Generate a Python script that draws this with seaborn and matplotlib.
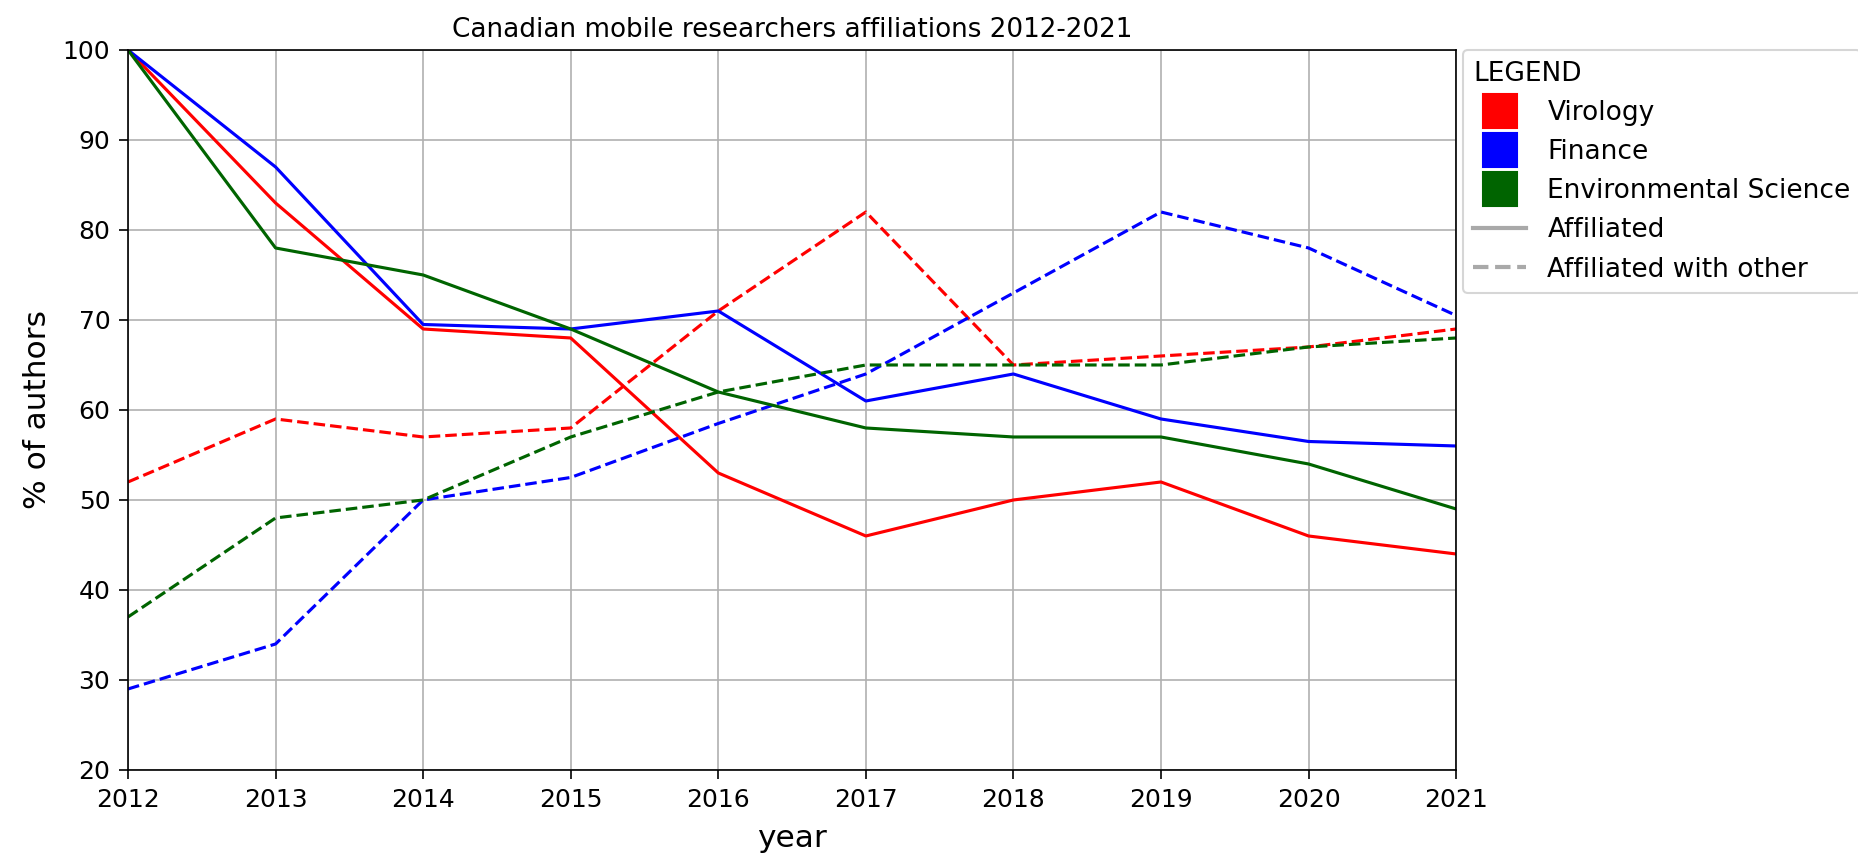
"""Canadian mobile researchers affiliations line chart."""
import numpy as np
import pandas as pd
import matplotlib
matplotlib.use("Agg")
import matplotlib.pyplot as plt
from matplotlib.lines import Line2D
import seaborn as sns

# Data
years = [2012, 2013, 2014, 2015, 2016, 2017, 2018, 2019, 2020, 2021]
fields = ["Virology", "Finance", "Environmental Science"]
kinds = ["Affiliated", "Affiliated with other"]

virology_affiliated = [100, 83, 69, 68, 53, 46, 50, 52, 46, 44]
virology_other = [52, 59, 57, 58, 71, 82, 65, 66, 67, 69]
finance_affiliated = [100, 87, 69.5, 69, 71, 61, 64, 59, 56.5, 56]
finance_other = [29, 34, 50, 52.5, 58.5, 64, 73, 82, 78, 70.5]
env_affiliated = [100, 78, 75, 69, 62, 58, 57, 57, 54, 49]
env_other = [37, 48, 50, 57, 62, 65, 65, 65, 67, 68]

colors = {"Virology": "red", "Finance": "blue", "Environmental Science": "darkgreen"}

series = {
    ("Virology", "Affiliated"): virology_affiliated,
    ("Virology", "Affiliated with other"): virology_other,
    ("Finance", "Affiliated"): finance_affiliated,
    ("Finance", "Affiliated with other"): finance_other,
    ("Environmental Science", "Affiliated"): env_affiliated,
    ("Environmental Science", "Affiliated with other"): env_other,
}

rows = []
for (field, kind), vals in series.items():
    for y, v in zip(years, vals):
        rows.append({"year": y, "value": v, "field": field, "kind": kind})
df = pd.DataFrame(rows)

fig = plt.figure(figsize=(1858 / 150, 856 / 150), dpi=150)
ax = fig.add_axes([0.0689, 0.1005, 0.7148, 0.8411])

sns.lineplot(
    data=df, x="year", y="value", hue="field", style="kind",
    hue_order=fields, style_order=kinds, palette=colors,
    dashes={"Affiliated": "", "Affiliated with other": (3.7, 1.6)},
    linewidth=1.5, legend=False, ax=ax,
)

ax.set_xlim(2012, 2021)
ax.set_ylim(20, 100)
ax.set_xticks(years)
ax.set_yticks(np.arange(20, 101, 10))
ax.tick_params(labelsize=12, length=4.5, pad=4)
ax.grid(True, color="#b0b0b0", linewidth=0.8)
ax.set_axisbelow(True)
ax.set_xlabel("year", fontsize=15, labelpad=6)
ax.set_ylabel("% of authors", fontsize=15, labelpad=5)
ax.set_title("Canadian mobile researchers affiliations 2012-2021", fontsize=12.6)

handles = [
    Line2D([], [], marker="s", color=colors[f], linestyle="None", markersize=16)
    for f in fields
]
handles += [
    Line2D([], [], color="darkgray", linewidth=2, linestyle="-"),
    Line2D([], [], color="darkgray", linewidth=2, linestyle="--"),
]
labels = fields + kinds
ax.legend(
    handles, labels, title="LEGEND", loc="upper left",
    bbox_to_anchor=(1.005, 1.0), borderaxespad=0, fontsize=12.7,
    title_fontsize=12.7, alignment="left",
)

fig.savefig("out.png", dpi=150)
